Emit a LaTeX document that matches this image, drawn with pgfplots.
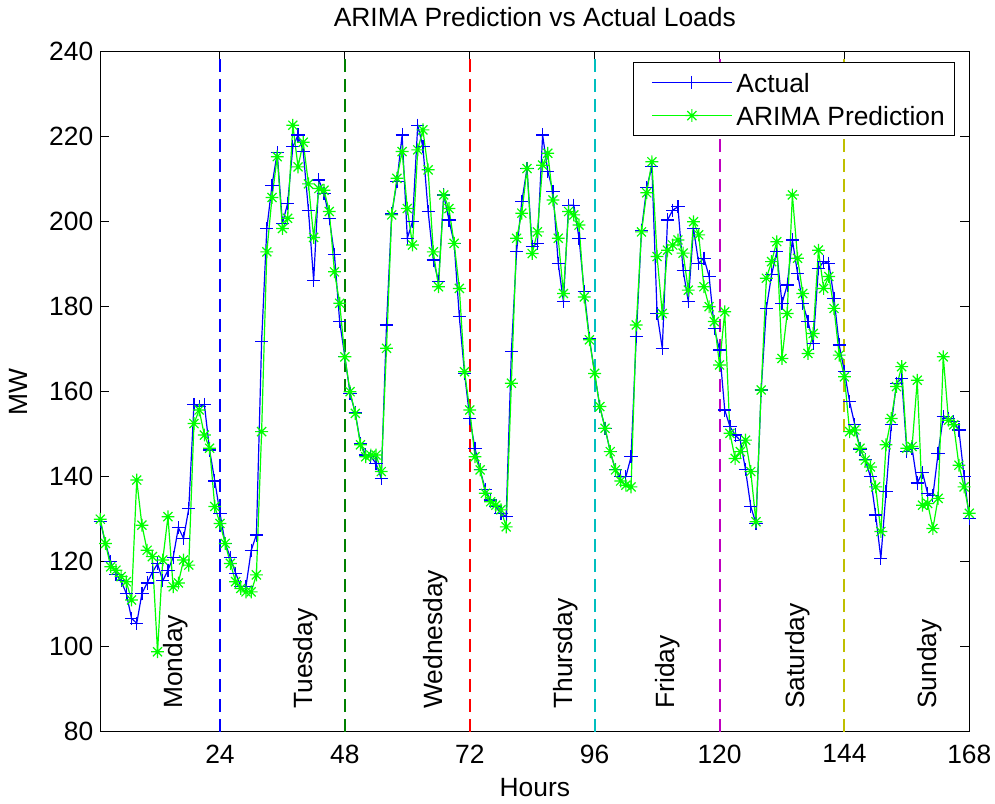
\documentclass[border=0pt]{standalone}
\usepackage{fontspec}
\setmainfont{Liberation Sans}
\usepackage{pgfplots}
\pgfplotsset{compat=1.18}
\usepackage{pgfplotstable}

\definecolor{mblue}{rgb}{0,0,1}
\definecolor{mgreen}{rgb}{0,1,0}
\definecolor{dgreen}{rgb}{0,0.5,0}
\definecolor{mred}{rgb}{1,0,0}
\definecolor{mcyan}{rgb}{0,0.75,0.75}
\definecolor{mmag}{rgb}{0.75,0,0.75}
\definecolor{myel}{rgb}{0.75,0.75,0}

\pgfdeclareplotmark{mstar}{%
 \pgfpathmoveto{\pgfqpoint{-\pgfplotmarksize}{0pt}}\pgfpathlineto{\pgfqpoint{\pgfplotmarksize}{0pt}}%
 \pgfpathmoveto{\pgfqpoint{0pt}{-\pgfplotmarksize}}\pgfpathlineto{\pgfqpoint{0pt}{\pgfplotmarksize}}%
 \pgfpathmoveto{\pgfqpoint{-0.707\pgfplotmarksize}{-0.707\pgfplotmarksize}}\pgfpathlineto{\pgfqpoint{0.707\pgfplotmarksize}{0.707\pgfplotmarksize}}%
 \pgfpathmoveto{\pgfqpoint{-0.707\pgfplotmarksize}{0.707\pgfplotmarksize}}\pgfpathlineto{\pgfqpoint{0.707\pgfplotmarksize}{-0.707\pgfplotmarksize}}%
 \pgfusepathqstroke}

\pgfplotstableread{
h act pred
1 129.5 130
2 124.3 124.3
3 120 118.8
4 117 118
5 115.5 116.5
6 112.5 115.3
7 106.7 111
8 105.5 139.2
9 112.5 128.6
10 115 122.7
11 117.5 121.2
12 119.5 98.8
13 115.5 120.4
14 118 130.6
15 121 114.1
16 128 115
17 125.5 120.4
18 132.5 119.2
19 157 152.5
20 156.5 155.7
21 157 149.8
22 146.3 146.7
23 139 133
24 131.4 129
25 124.3 124.3
26 121 119.6
27 117.3 115.3
28 114.2 113.7
29 114.2 112.9
30 122.7 112.9
31 126.3 116.9
32 171.8 150.6
33 198.4 192.9
34 208.6 205.7
35 216.2 215.3
36 199.6 198.4
37 204.3 200.8
38 217.6 222.7
39 220.4 212.9
40 216.5 218.7
41 202.7 208.9
42 186.1 196.3
43 209.8 207.8
44 206.7 207.4
45 200.8 202.4
46 192.2 188.2
47 176.5 180.8
48 168.2 168.2
49 159.6 160
50 155 154.9
51 147.9 147.5
52 145.1 144.7
53 144.7 145.1
54 143.1 145.1
55 139.5 141.2
56 175.7 170.2
57 201.8 201.6
58 209.4 210.2
59 220.4 216.5
60 196.1 203.1
61 200 194.5
62 222.7 216.9
63 217.6 221.6
64 202.4 212.2
65 191 192.9
66 185.9 184.7
67 206.3 206.3
68 200.4 203.1
69 194.9 194.9
70 177.6 184.3
71 164.3 164.7
72 153.7 155.7
73 146.7 144.7
74 141.6 141.6
75 136.9 136.1
76 134.5 134.1
77 132.9 133.3
78 131.4 132.2
79 130.6 128.2
80 169.4 162
81 193 196.1
82 204.7 202
83 212.5 212.5
84 194.1 192.5
85 194.9 197.6
86 220.4 213.3
87 211.8 216.1
88 207.1 205.1
89 190.2 196.1
90 181.2 183.1
91 203.9 202.4
92 203.9 201.6
93 196.1 199.2
94 183.5 182.3
95 172.5 172.2
96 164.3 164.3
97 156.5 156.5
98 151.4 151.4
99 145.9 145.9
100 141.6 141.6
101 140 139
102 140 138
103 144.7 137.6
104 172.9 175.7
105 198 197.6
106 208 206.8
107 212.9 214.1
108 178.4 191.8
109 170.2 178.4
110 200.4 193.3
111 202.7 194.5
112 203.5 195.7
113 188.6 192.6
114 181.2 183.9
115 198.4 200
116 190.2 196.9
117 191.4 184.7
118 187.1 180
119 174.9 176.5
120 169.8 166.3
121 155.7 178.8
122 151.8 150.2
123 149.8 144.3
124 148.5 145.9
125 141.6 148.6
126 133 141.2
127 129 129.4
128 160.4 160.4
129 179.6 186.7
130 187.5 190.6
131 192.9 195.3
132 180.8 167.8
133 185.1 178.4
134 195.7 206.3
135 187.8 191.4
136 180.8 183.1
137 176.5 169
138 171.4 173.7
139 189 193.3
140 190.6 184.3
141 190.2 187.1
142 182 179.6
143 171 168.6
144 164.7 163.5
145 157.6 150.6
146 152.2 151
147 146.5 146.7
148 144 143.9
149 140 142.3
150 131 137.6
151 120.8 127.1
152 136.5 147.5
153 152.2 153.7
154 162 161.2
155 163.1 165.9
156 145.9 146.7
157 146.7 147.1
158 138.5 162.7
159 141 133.3
160 136 133.7
161 135.5 127.8
162 145.5 134.9
163 154.1 168.2
164 153.7 153.3
165 152.9 152.2
166 151 142.7
167 140 137.6
168 130.2 131.4
}\loads

\newcommand{\fs}{\fontsize{13.2}{15.5}\selectfont}

\begin{document}
\begin{tikzpicture}
\useasboundingbox (-50.15pt,-35.65pt) rectangle (447.35pt,365.85pt);
\begin{axis}[
  scale only axis,
  width=434.5pt, height=340pt,
  xmin=1, xmax=168, ymin=80, ymax=240,
  xtick={24,48,72,96,120,144,168},
  ytick={80,100,120,140,160,180,200,220,240},
  tick align=inside,
  major tick length=4.5pt,
  axis line style={line width=0.5pt},
  every tick/.style={black, line width=0.5pt},
  /pgf/number format/assume math mode=true,
  tick label style={font=\fs},
  xticklabel style={yshift=-3pt},
  xlabel={Hours}, ylabel={MW},
  label style={font=\fs},
  xlabel style={at={(axis description cs:0.5,0)}, anchor=base, yshift=-32.5pt},
  ylabel style={at={(axis description cs:0,0.5)}, anchor=center, yshift=41pt},
  title={ARIMA Prediction vs Actual Loads},
  every axis title shift=0pt,
  title style={at={(axis description cs:0.5,1)}, anchor=base, yshift=12.5pt, font=\fs},
  legend style={at={(1,1)}, anchor=north east, xshift=-7pt, yshift=-5.2pt,
    draw=black, line width=0.5pt, fill=white, font=\fs,
    inner xsep=3pt, inner ysep=4.2pt, row sep=4.9pt,
    nodes={inner ysep=1pt, text height=9.6pt, text depth=0pt}},
  legend cell align=left,
  legend image code/.code={\path (-6pt,0pt); \draw[mark repeat=2,mark phase=2] plot coordinates {(0pt,0pt) (20pt,0pt) (40pt,0pt)};},
  vline/.style={line width=1pt, line cap=butt, dash pattern=on 6.5pt off 3.5pt, forget plot},
]
\addplot[vline, color=mblue] coordinates {(24,80) (24,240)};
\addplot[vline, color=dgreen] coordinates {(48,80) (48,240)};
\addplot[vline, color=mred] coordinates {(72,80) (72,240)};
\addplot[vline, color=mcyan] coordinates {(96,80) (96,240)};
\addplot[vline, color=mmag] coordinates {(120,80) (120,240)};
\addplot[vline, color=myel] coordinates {(144,80) (144,240)};

\addplot[mblue, line width=0.6pt, mark=+, mark size=3.3pt, mark options={solid}] table[x=h, y=act] {\loads};
\addlegendentry{Actual}
\addplot[mgreen, line width=0.6pt, mark=mstar, mark size=3.2pt, mark options={solid}] table[x=h, y=pred] {\loads};
\addlegendentry{ARIMA Prediction}

\node[rotate=90, anchor=west, inner sep=0pt, font=\fs] at (axis cs:15.5,85.3) {Monday};
\node[rotate=90, anchor=west, inner sep=0pt, font=\fs] at (axis cs:40.5,85.3) {Tuesday};
\node[rotate=90, anchor=west, inner sep=0pt, font=\fs] at (axis cs:65.4,85.3) {Wednesday};
\node[rotate=90, anchor=west, inner sep=0pt, font=\fs] at (axis cs:90.4,85.3) {Thursday};
\node[rotate=90, anchor=west, inner sep=0pt, font=\fs] at (axis cs:110.1,85.3) {Friday};
\node[rotate=90, anchor=west, inner sep=0pt, font=\fs] at (axis cs:135.1,85.3) {Saturday};
\node[rotate=90, anchor=west, inner sep=0pt, font=\fs] at (axis cs:160.3,85.3) {Sunday};
\end{axis}
\end{tikzpicture}
\end{document}
